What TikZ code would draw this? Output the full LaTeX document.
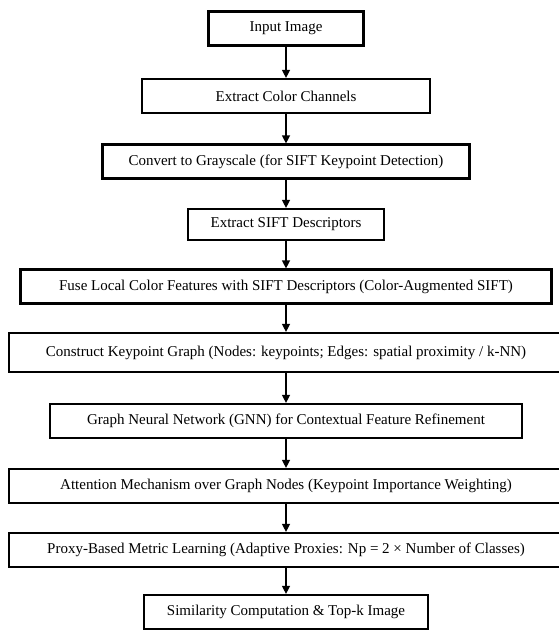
\documentclass[tikz,border=0pt]{standalone}
\usepackage{fontspec}
\setmainfont{Liberation Serif}
\usetikzlibrary{arrows.meta, positioning}

\tikzset{
  every node/.style={font=\fontsize{15}{18}\selectfont},
  stage/.style={
    draw=black, line width=2.2pt, fill=white,
    minimum height=34pt, inner xsep=4pt, inner ysep=2pt,
    align=center, text=black
  },
  flow/.style={-{Triangle[length=8pt,width=8pt]}, line width=1.3pt},
}

\begin{document}
\begin{tikzpicture}
    \useasboundingbox (0pt,0pt) rectangle (558pt,-631pt);

    % Pipeline stages
    \node[stage, minimum width=155pt] (input) at (286pt,-28.5pt)
      {Input Image};
    \node[stage, minimum width=288pt] (channels) at (286pt,-96pt)
      {Extract Color Channels};
    \node[stage, minimum width=367pt] (gray) at (286pt,-161.5pt)
      {Convert to Grayscale (for SIFT Keypoint Detection)};
    \node[stage, minimum width=196pt, minimum height=31pt] (sift) at (286pt,-224.5pt)
      {Extract SIFT Descriptors};
    \node[stage, minimum width=531pt] (fuse) at (286pt,-286.5pt)
      {Fuse Local Color Features with SIFT Descriptors (Color-Augmented SIFT)};
    \node[stage, minimum width=554pt, minimum height=39pt] (graph) at (286pt,-352.5pt)
      {Construct Keypoint Graph (Nodes: keypoints; Edges: spatial proximity / k-NN)};
    \node[stage, minimum width=472pt] (gnn) at (286pt,-421pt)
      {Graph Neural Network (GNN) for Contextual Feature Refinement};
    \node[stage, minimum width=554pt] (attention) at (286pt,-486pt)
      {Attention Mechanism over Graph Nodes (Keypoint Importance Weighting)};
    \node[stage, minimum width=554pt] (proxy) at (286pt,-550pt)
      {Proxy-Based Metric Learning (Adaptive Proxies: Np = 2 × Number of Classes)};
    \node[stage, minimum width=284pt] (topk) at (286pt,-612pt)
      {Similarity Computation \& Top-k Image};

    % Arrows between stages
    \foreach \a/\b in {input/channels, channels/gray, gray/sift, sift/fuse,
                       fuse/graph, graph/gnn, gnn/attention, attention/proxy, proxy/topk}
      \draw[flow] (\a) -- (\b);

\end{tikzpicture}
\end{document}
